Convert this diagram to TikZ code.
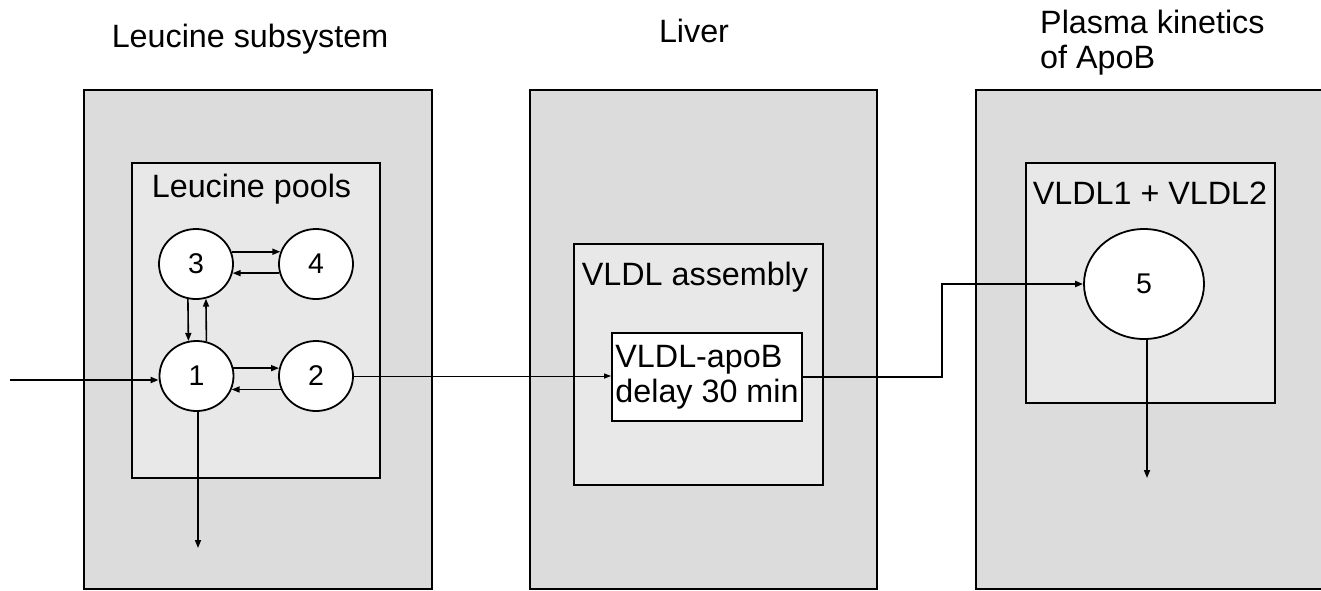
\documentclass[tikz,border=0pt]{standalone}
\usepackage{fontspec}
\setmainfont{Liberation Sans}
\usetikzlibrary{shapes.geometric,arrows.meta}
\definecolor{outerfill}{RGB}{220,220,220}
\definecolor{innerfill}{RGB}{232,232,232}
\begin{document}
\begin{tikzpicture}[x=1pt,y=-1pt,
  every node/.style={font=\fontsize{32.3}{35}\selectfont, inner sep=0pt},
  outerbox/.style={draw=black, line width=2pt, fill=outerfill},
  innerbox/.style={draw=black, line width=2pt, fill=innerfill},
  delaybox/.style={draw=black, line width=1.8pt, fill=white, align=left},
  pool/.style={ellipse, draw=black, line width=1.8pt, fill=white, inner sep=0pt,
    font=\fontsize{28.5}{30}\selectfont},
  title/.style={anchor=base},
  flow/.style={line width=1.6pt, -{Triangle[length=8pt,width=6pt]}},
  thinflow/.style={line width=1pt, -{Triangle[length=7pt,width=5pt]}},
  thickflow/.style={line width=2.6pt, -{Triangle[length=8pt,width=6pt]}}
]
\useasboundingbox (0,0) rectangle (1321,590);
\clip (0,0) rectangle (1321,590);

% outer compartments
\node[outerbox, minimum width=348pt, minimum height=499pt] (leuc) at (258,339.5) {};
\node[outerbox, minimum width=347pt, minimum height=499pt] (liver) at (703.5,339.5) {};
\node[outerbox, minimum width=359pt, minimum height=499pt] (plasma) at (1155.5,339.5) {};

% titles
\node[title] (tleuc) at (250,47.5) {Leucine subsystem};
\node[title] (tliver) at (694,42.7) {Liver};
\node[anchor=north west, align=left] (tplasma) at (1040,10) {Plasma kinetics\\of ApoB};

% inner boxes
\node[innerbox, minimum width=248pt, minimum height=315pt] (pools) at (256,320.5) {};
\node[innerbox, minimum width=249pt, minimum height=241pt] (assembly) at (698.5,364.5) {};
\node[innerbox, minimum width=249pt, minimum height=240pt] (vldl) at (1150.5,283) {};

\node[title] (tpools) at (251.5,197) {Leucine pools};
\node[title] (tassembly) at (695,285) {VLDL assembly};
\node[title] (tvldl) at (1150,204) {VLDL1 + VLDL2};

% delay box
\node[delaybox, minimum width=190pt, minimum height=88pt] (apob) at (707,377) {VLDL-apoB\\delay 30 min};

% pools
\node[pool, minimum width=74pt, minimum height=70pt] (c3) at (196,264) {3};
\node[pool, minimum width=74pt, minimum height=70pt] (c4) at (316,264) {4};
\node[pool, minimum width=74pt, minimum height=70pt] (c1) at (196.5,376) {1};
\node[pool, minimum width=74pt, minimum height=70pt] (c2) at (316,376) {2};
\node[pool, minimum width=120pt, minimum height=110pt] (c5) at (1144,284) {5};

% coordinates for free ends
\coordinate (in) at (10,380);
\coordinate (out1) at (198,548);
\coordinate (bend) at (942,284);
\coordinate (out5) at (1147,478);

% exchanges between pools
\draw[flow] (c3.19) -- (c4.161);
\draw[flow] (c4.194) -- (c3.346);
\draw[flow] (c3.257) -- (c1.103);
\draw[flow] (c1.74) -- (c3.286);
\draw[flow] (c1.12) -- (c2.168);
\draw[flow] (c2.201) -- (c1.339);

% input and loss
\draw[flow, line width=2pt] (in) -- (in -| c1.west);
\draw[flow] (c1.south -| out1) -- (out1);

% to liver and plasma
\draw[thinflow] (c2.east) -- (c2.east -| apob.west);
\draw[thickflow] (apob.east) -| (bend) -- (c5.west);
\draw[flow] (c5.south -| out5) -- (out5);
\end{tikzpicture}
\end{document}
